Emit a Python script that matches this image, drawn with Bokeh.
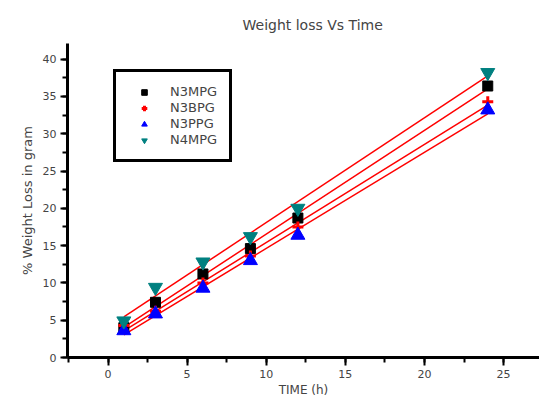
from bokeh.plotting import figure
from bokeh.models import Range1d, SingleIntervalTicker, Legend, LegendItem
from bokeh.embed import file_html
from bokeh.resources import INLINE
import numpy as np

# Data
time_h = [1, 3, 6, 9, 12, 24]
n3mpg = [4.0, 7.4, 11.2, 14.6, 18.7, 36.4]
n3bpg = [4.3, 6.2, 10.0, 13.6, 17.5, 34.3]
n3ppg = [3.6, 5.85, 9.3, 13.0, 16.4, 33.2]
n4mpg = [4.9, 9.4, 12.8, 16.2, 20.0, 38.2]
series_names = ["N3MPG", "N3BPG", "N3PPG", "N4MPG"]

FONT = "DejaVu Sans"

p = figure(width=539, height=399, output_backend="svg", toolbar_location=None,
           x_range=Range1d(-2.56, 27.27), y_range=Range1d(0, 42.1),
           min_border_left=67, min_border_right=0, min_border_top=43, min_border_bottom=42)
p.outline_line_color = None
p.grid.visible = False
p.background_fill_color = "white"

p.title.text = "Weight loss Vs Time"
p.title.align = "left"
p.title.offset = 175
p.title.standoff = 22
p.title.text_font = FONT
p.title.text_font_size = "14px"
p.title.text_font_style = "normal"

for ax in (p.xaxis[0], p.yaxis[0]):
    ax.ticker = SingleIntervalTicker(interval=5, num_minor_ticks=2)
    ax.axis_line_width = 3
    ax.major_tick_line_width = 2
    ax.minor_tick_line_width = 2
    ax.major_tick_in = 0
    ax.minor_tick_in = 0
    ax.major_label_text_font = FONT
    ax.major_label_text_font_size = "11px"
    ax.axis_label_text_font = FONT
    ax.axis_label_text_font_size = "13px"
    ax.axis_label_text_font_style = "normal"

p.xaxis.major_tick_out = 8
p.xaxis.minor_tick_out = 5
p.xaxis.major_label_standoff = 4
p.xaxis.axis_label = "TIME (h)"
p.xaxis.axis_label_standoff = 2
p.xaxis.axis_label_text_font_size = "12px"

p.yaxis.major_tick_out = 7
p.yaxis.minor_tick_out = 5
p.yaxis.major_label_standoff = 4
p.yaxis.axis_label = "% Weight Loss in gram"
p.yaxis.axis_label_standoff = 5

t = np.array(time_h, dtype=float)
items = []
styles = [
    (n3mpg, "square", "black", 10),
    (n3bpg, "cross", "red", 11),
    (n3ppg, "triangle", "blue", 14),
    (n4mpg, "inverted_triangle", "#008080", 14),
]
for (vals, marker, color, size), name in zip(styles, series_names):
    # linear fit line (red) for each series
    k, b = np.polyfit(t, np.array(vals), 1)
    p.line([t.min(), t.max()], [k * t.min() + b, k * t.max() + b], line_color="red", line_width=1.5)
for (vals, marker, color, size), name in zip(styles, series_names):
    if marker == "cross":
        r = p.scatter(time_h, vals, marker=marker, size=size, line_color=color, line_width=3)
    else:
        r = p.scatter(time_h, vals, marker=marker, size=size, fill_color=color, line_color=color)
    items.append(LegendItem(label=name, renderers=[r]))

legend = Legend(items=items, location=(46, 195))
legend.border_line_color = "black"
legend.border_line_alpha = 1.0
legend.border_line_width = 3
legend.padding = 12
legend.margin = 0
legend.spacing = 1
legend.glyph_width = 32
legend.glyph_height = 14
legend.label_standoff = 10
legend.label_text_font = FONT
legend.label_text_font_size = "13px"
legend.label_height = 14
p.add_layout(legend, "center")

open("out.html", "w").write(file_html(p, INLINE))
